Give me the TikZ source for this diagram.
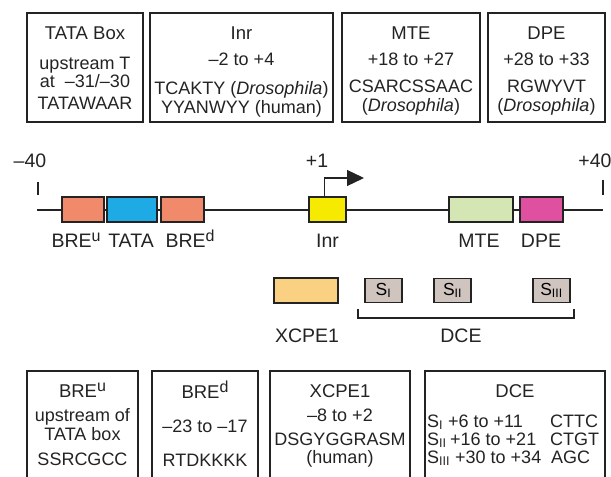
\documentclass[tikz,border=0pt]{standalone}
\usepackage{fontspec}
\setmainfont{Liberation Sans}
\usetikzlibrary{arrows.meta}
\definecolor{brecol}{RGB}{240,138,106}
\definecolor{tatacol}{RGB}{30,170,228}
\definecolor{inrcol}{RGB}{246,234,0}
\definecolor{mtecol}{RGB}{212,230,180}
\definecolor{dpecol}{RGB}{224,80,160}
\definecolor{xcpecol}{RGB}{250,208,130}
\definecolor{scol}{RGB}{208,196,190}
\definecolor{ink}{RGB}{35,35,35}
\newcommand{\hisup}[1]{\raisebox{0.3em}{\fontsize{16}{16}\selectfont #1}}
\tikzstyle{infobox} = [draw=ink, line width=1.3pt, inner sep=0pt]
\tikzstyle{elem} = [draw=ink, line width=1.1pt, inner sep=0pt, minimum height=25pt]
\tikzstyle{sbox} = [elem, fill=scol, minimum width=37pt, minimum height=24pt, font=\fontsize{17.5}{19}\selectfont]
\tikzstyle{title} = [anchor=base, text=ink, inner sep=0pt, font=\fontsize{18.5}{20}\selectfont]
\tikzstyle{detail} = [anchor=base, text=ink, inner sep=0pt, font=\fontsize{18}{20}\selectfont]
\tikzstyle{lbl} = [anchor=base, text=ink, inner sep=0pt, font=\fontsize{19.5}{21}\selectfont]

\begin{document}
\begin{tikzpicture}[x=1pt,y=-1pt]
    \useasboundingbox (0,0) rectangle (611,477);
    % top info boxes
    \node[infobox,minimum width=116pt,minimum height=109pt](tatainfo) at (85,67.5){};
    \node[infobox,minimum width=183pt,minimum height=109pt](inrinfo) at (241.5,67.5){};
    \node[infobox,minimum width=138pt,minimum height=109pt](mteinfo) at (411,67.5){};
    \node[infobox,minimum width=117pt,minimum height=109pt](dpeinfo) at (546.5,67.5){};
    \node[title](tatat) at (85,39){TATA Box};
    \node[detail](tata1) at (85,69){upstream T};
    \node[detail](tata2) at (85,87){at\ \ --31/--30};
    \node[detail](tata3) at (85,109){TATAWAAR};
    \node[title](inrt) at (241.5,39){Inr};
    \node[detail](inr1) at (241.5,65){--2 to +4};
    \node[detail](inr2) at (241.5,94){TCAKTY (\textit{Drosophila})};
    \node[detail](inr3) at (241.5,113){YYANWYY (human)};
    \node[title](mtet) at (411,39){MTE};
    \node[detail](mte1) at (411,65){+18 to +27};
    \node[detail](mte2) at (411,92){CSARCSSAAC};
    \node[detail](mte3) at (411,111){(\textit{Drosophila})};
    \node[title](dpet) at (546.5,39){DPE};
    \node[detail](dpe1) at (546.5,65){+28 to +33};
    \node[detail](dpe2) at (546.5,92){RGWYVT};
    \node[detail](dpe3) at (546.5,111){(\textit{Drosophila})};
    % promoter line
    \node[lbl](m40) at (30,167){--40};
    \node[lbl](p1) at (317,167){+1};
    \node[lbl](p40) at (595,167){+40};
    \coordinate (lstart) at (37,210);
    \coordinate (lend) at (603,210);
    \draw[ink,line width=1.1pt] (38,182) -- (38,195);
    \draw[ink,line width=1.1pt] (603,180) -- (603,195);
    \draw[ink,line width=1.1pt] (lstart) -- (lend);
    \node[elem,fill=brecol,minimum width=42pt](breu) at (83,209.5){};
    \node[elem,fill=tatacol,minimum width=50pt](tata) at (132,209.5){};
    \node[elem,fill=brecol,minimum width=43pt](bred) at (182.5,209.5){};
    \node[elem,fill=inrcol,minimum width=37pt](inr) at (327.5,209.5){};
    \node[elem,fill=mtecol,minimum width=64pt](mte) at (481,209.5){};
    \node[elem,fill=dpecol,minimum width=43pt](dpe) at (541.5,209.5){};
    \coordinate (tip) at (364,178);
    \draw[ink,line width=1.3pt,-{Triangle[length=17pt,width=16pt]}] ([xshift=-3pt]inr.north) |- (tip);
    \node[lbl](breul) at (76,247){BRE\hisup{u}};
    \node[lbl](tatal) at (131,247){TATA};
    \node[lbl](bredl) at (190,247){BRE\hisup{d}};
    \node[lbl](inrl) at (327.5,247){Inr};
    \node[lbl](mtel) at (479,247){MTE};
    \node[lbl](dpel) at (541,247){DPE};
    % downstream core elements
    \node[elem,fill=xcpecol,minimum width=64pt](xcpe) at (306,290.5){};
    \node[sbox](s1) at (383.5,290.5){S\textsubscript{I}};
    \node[sbox](s2) at (452.5,290.5){S\textsubscript{II}};
    \node[sbox](s3) at (551.5,290.5){S\textsubscript{III}};
    \coordinate (bl) at (358,309);
    \coordinate (br) at (574,309);
    \draw[ink,line width=1.1pt] (bl) -- ++(0,9) -| (br);
    \node[lbl](xcpel) at (307,342){XCPE1};
    \node[lbl](dcel) at (461,342){DCE};
    % bottom info boxes
    \node[infobox,minimum width=111pt,minimum height=120pt](breuinfo) at (82.5,431){};
    \node[infobox,minimum width=106pt,minimum height=120pt](bredinfo) at (205,431){};
    \node[infobox,minimum width=140pt,minimum height=120pt](xcpeinfo) at (340,431){};
    \node[infobox,minimum width=180pt,minimum height=120pt](dceinfo) at (515,431){};
    \node[title](breut) at (82.5,397){BRE\hisup{u}};
    \node[detail](breu1) at (82.5,421){upstream of};
    \node[detail](breu2) at (82.5,440){TATA box};
    \node[detail](breu3) at (82.5,465){SSRCGCC};
    \node[title](bredt) at (205,398){BRE\hisup{d}};
    \node[detail](bred1) at (205,432){--23 to --17};
    \node[detail](bred2) at (205,466){RTDKKKK};
    \node[title](xcpet) at (340,397){XCPE1};
    \node[detail](xcpe1) at (340,421){--8 to +2};
    \node[detail](xcpe2) at (340,445){DSGYGGRASM};
    \node[detail](xcpe3) at (340,463){(human)};
    \node[title](dcet) at (515,397){DCE};
    \node[detail,anchor=base west](dce1s) at (427,427){S\textsubscript{I}};
    \node[detail,anchor=base west](dce2s) at (427,445){S\textsubscript{II}};
    \node[detail,anchor=base west](dce3s) at (427,463){S\textsubscript{III}};
    \node[detail,anchor=base west](dce1r) at (448,427){+6 to +11};
    \node[detail,anchor=base west](dce2r) at (450,445){+16 to +21};
    \node[detail,anchor=base west](dce3r) at (455,463){+30 to +34};
    \node[detail,anchor=base west](dce1c) at (550,427){CTTC};
    \node[detail,anchor=base west](dce2c) at (550,445){CTGT};
    \node[detail,anchor=base west](dce3c) at (551,463){AGC};
  \end{tikzpicture}
\end{document}
